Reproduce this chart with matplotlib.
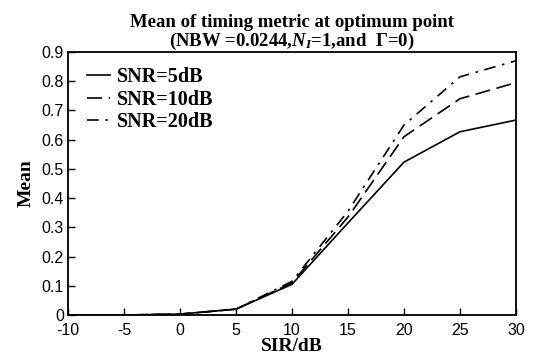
import numpy as np
import matplotlib
matplotlib.use('Agg')
import matplotlib.pyplot as plt

plt.rcParams['mathtext.fontset'] = 'custom'
plt.rcParams['mathtext.it'] = 'Liberation Serif:italic:bold'
plt.rcParams['mathtext.rm'] = 'Liberation Serif:bold'
plt.rcParams['axes.unicode_minus'] = False

# SIR values (dB) and mean of timing metric
sir = [-10, -5, 0, 5, 10, 15, 20, 25, 30]
snr5 = [0.0, 0.0, 0.003, 0.02, 0.105, 0.315, 0.523, 0.627, 0.667]
snr10 = [0.0, 0.0, 0.003, 0.02, 0.11, 0.335, 0.61, 0.74, 0.795]
snr20 = [0.0, 0.0, 0.003, 0.02, 0.115, 0.355, 0.65, 0.815, 0.87]
xticks = [-10, -5, 0, 5, 10, 15, 20, 25, 30]
yticks = [0, 0.1, 0.2, 0.3, 0.4, 0.5, 0.6, 0.7, 0.8, 0.9]
ytick_labels = ['0', '0.1', '0.2', '0.3', '0.4', '0.5', '0.6', '0.7', '0.8', '0.9']

fig = plt.figure(figsize=(5.33, 3.6), dpi=100)
ax = fig.add_axes([0.1276, 0.125, 0.8404, 0.7306])

ax.plot(sir, snr5, color='black', lw=1.2, linestyle='-', label='SNR=5dB')
ax.plot(sir, snr10, color='black', lw=1.2, linestyle=(0, (9, 4)), label='SNR=10dB')
ax.plot(sir, snr20, color='black', lw=1.2, linestyle=(0, (7, 4, 1.5, 4)), label='SNR=20dB')

ax.set_xlim(-10, 30)
ax.set_ylim(0, 0.9)
ax.set_xticks(xticks)
ax.set_yticks(yticks)
ax.set_yticklabels(ytick_labels)
ax.tick_params(direction='in', length=5, width=1, labelsize=11.5, pad=3)
ax.tick_params(axis='x', pad=6)
for lab in ax.get_xticklabels() + ax.get_yticklabels():
    lab.set_family('Liberation Sans')

for s in ax.spines.values():
    s.set_linewidth(1.3)

ax.set_xlabel('SIR/dB', family='Liberation Serif', fontweight='bold', fontsize=14, labelpad=0)
ax.set_ylabel('Mean', family='Liberation Serif', fontweight='bold', fontsize=14, labelpad=5)
ax.set_title('Mean of timing metric at optimum point\n'
             r'(NBW =0.0244,$N_I$=1,and  $\Gamma$=0)',
             family='Liberation Serif', fontweight='bold', fontsize=13.5,
             linespacing=1.0, pad=3)

leg = ax.legend(loc='upper left', bbox_to_anchor=(0.012, 0.995), frameon=False,
                handlelength=1.1, handletextpad=0.35, labelspacing=0.12,
                borderaxespad=0.3,
                prop={'family': 'Liberation Serif', 'weight': 'bold', 'size': 14.5})

fig.savefig('out.png', dpi=100)
